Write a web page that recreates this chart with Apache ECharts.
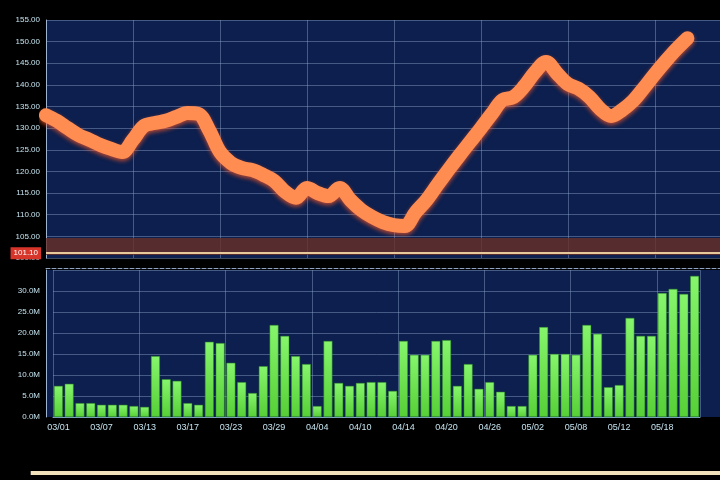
<!DOCTYPE html>
<html>
<head>
<meta charset="utf-8">
<script src="https://cdn.jsdelivr.net/npm/echarts@6/dist/echarts.min.js"></script>
<style>
html,body{margin:0;padding:0;background:#000;}
#main{width:720px;height:480px;}
</style>
</head>
<body>
<div id="main"></div>
<script>
const categories = [
  "03/01","03/02","03/03","03/06","03/07","03/08","03/09","03/10","03/13","03/14",
  "03/15","03/16","03/17","03/20","03/21","03/22","03/23","03/24","03/27","03/28",
  "03/29","03/30","03/31","04/03","04/04","04/05","04/06","04/07","04/10","04/11",
  "04/12","04/13","04/14","04/17","04/18","04/19","04/20","04/21","04/24","04/25",
  "04/26","04/27","04/28","05/01","05/02","05/03","05/04","05/05","05/08","05/09",
  "05/10","05/11","05/12","05/15","05/16","05/17","05/18","05/19","05/22","05/23"
];
const price = [
  133.0,131.7,130.0,128.4,127.3,126.1,125.2,124.5,127.3,130.5,
  131.2,131.7,132.6,133.5,133.3,129.6,124.5,122.0,120.8,120.3,
  119.2,117.8,115.3,113.9,116.2,115.0,114.3,116.2,113.4,111.1,
  109.5,108.3,107.6,107.4,110.6,113.4,116.9,120.3,123.6,126.8,
  130.0,133.3,136.5,137.2,139.7,143.0,145.3,142.7,140.2,139.1,
  137.2,134.4,132.8,134.2,136.3,139.3,142.5,145.5,148.3,150.8
];
const volume = [
  7.4,7.9,3.3,3.3,2.9,2.9,2.9,2.6,2.4,14.5,
  9.0,8.6,3.3,2.9,17.9,17.6,12.9,8.3,5.7,12.1,
  21.9,19.3,14.5,12.6,2.6,18.1,8.1,7.4,8.1,8.3,
  8.3,6.2,18.1,14.8,14.8,18.1,18.3,7.4,12.6,6.7,
  8.3,6.0,2.6,2.6,14.8,21.4,15.0,15.0,14.8,21.9,
  19.8,7.1,7.6,23.6,19.3,19.3,29.5,30.5,29.3,33.6
];
const supportBand = [100.7, 104.6];
const supportLine = 101.1;

const chart = echarts.init(document.getElementById('main'), null, {renderer: 'canvas'});
const gridColor = 'rgba(150,172,210,0.42)';
const labelColor = '#c4e2ee';
const navy = '#0c1f4e';

chart.setOption({
  backgroundColor: '#000000',
  animation: false,
  textStyle: {fontFamily: 'Liberation Sans'},
  graphic: [
    {type: 'rect', z: -10, shape: {x: 46, y: 20, width: 674, height: 238}, style: {fill: navy}},
    {type: 'rect', z: -10, shape: {x: 46, y: 270, width: 674, height: 147}, style: {fill: navy}}
  ],
  grid: [
    {left: 46, right: 0, top: 20, bottom: 222},
    {left: 53, right: 20, top: 270, bottom: 63}
  ],
  xAxis: [
    {
      type: 'category', gridIndex: 0, data: categories, boundaryGap: false, max: 62,
      offset: 10,
      axisLine: {show: true, lineStyle: {color: '#8ea3c4', type: 'dashed', width: 1}},
      axisTick: {show: false}, axisLabel: {show: false},
      splitLine: {show: true, interval: 7, lineStyle: {color: gridColor}}
    },
    {
      type: 'category', gridIndex: 1, data: categories, boundaryGap: true,
      offset: 20,
      axisLine: {show: true, lineStyle: {color: '#7fa6c8', width: 1}},
      axisTick: {show: false},
      axisLabel: {inside: true, interval: 3, color: labelColor, fontSize: 9, margin: 5},
      splitLine: {show: true, interval: 7, lineStyle: {color: gridColor}}
    }
  ],
  yAxis: [
    {
      type: 'value', gridIndex: 0, min: 100, max: 155, interval: 5,
      axisLine: {show: true, lineStyle: {color: '#9fb4d0'}},
      axisTick: {show: false},
      axisLabel: {color: labelColor, fontSize: 8, margin: 6, formatter: v => v.toFixed(2)},
      splitLine: {show: true, lineStyle: {color: gridColor}}
    },
    {
      type: 'value', gridIndex: 1, min: 0, max: 35, interval: 5,
      offset: 7,
      axisLine: {show: true, lineStyle: {color: '#9fb4d0'}},
      axisTick: {show: false},
      axisLabel: {color: labelColor, fontSize: 8, margin: 6, showMaxLabel: false, formatter: v => v.toFixed(1) + 'M'},
      splitLine: {show: true, lineStyle: {color: gridColor}}
    }
  ],
  dataZoom: [{
    type: 'slider', xAxisIndex: 1, filterMode: 'none', start: 0, end: 100,
    left: 30, right: 0, top: 471, height: 4,
    backgroundColor: 'rgba(0,0,0,0)', fillerColor: '#f2e2bc',
    borderColor: 'rgba(0,0,0,0)', showDataShadow: false, showDetail: false,
    brushSelect: false, moveHandleSize: 0, handleSize: 0,
    handleStyle: {opacity: 0}
  }],
  series: [
    {
      type: 'line', xAxisIndex: 0, yAxisIndex: 0, data: price,
      smooth: 0.35, symbol: 'none',
      lineStyle: {width: 14, color: '#ff8d52', cap: 'round', join: 'round',
        shadowColor: 'rgba(255,90,40,0.7)', shadowBlur: 4, shadowOffsetY: 2},
      markArea: {silent: true, itemStyle: {color: 'rgba(105,48,40,0.8)'},
        data: [[{yAxis: supportBand[0]}, {yAxis: supportBand[1]}]]},
      markLine: {silent: true, symbol: 'none',
        lineStyle: {color: '#e9c99c', width: 2, type: 'solid'},
        label: {position: 'start', color: '#fff', backgroundColor: '#d8352a', fontSize: 8, padding: [2, 3], formatter: p => p.value.toFixed(2)},
        data: [{yAxis: supportLine}]}
    },
    {
      type: 'bar', xAxisIndex: 1, yAxisIndex: 1, data: volume,
      barCategoryGap: '18%',
      itemStyle: {color: new echarts.graphic.LinearGradient(0, 0, 0, 1, [
        {offset: 0, color: '#86f56c'}, {offset: 1, color: '#56cf36'}]),
        borderColor: '#2f8a26', borderWidth: 0.5}
    }
  ]
});
</script>
</body>
</html>
